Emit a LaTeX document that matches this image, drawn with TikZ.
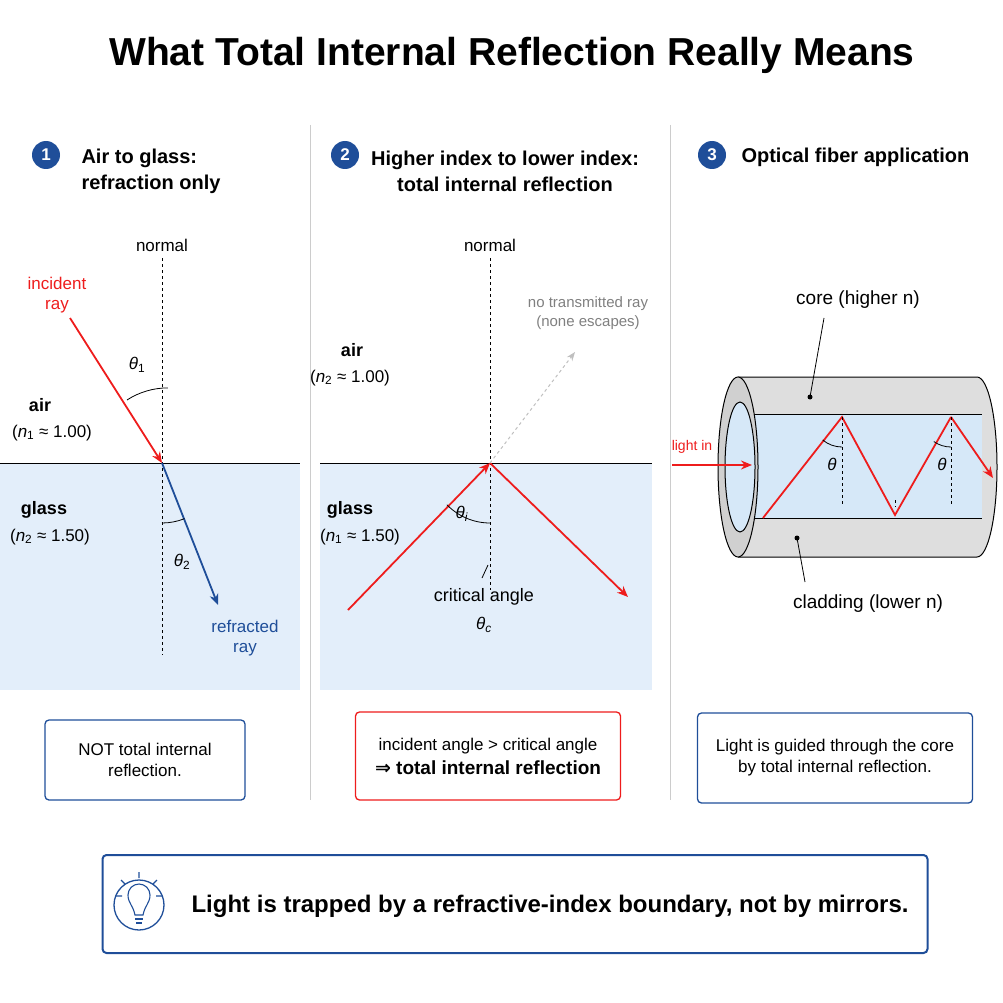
\documentclass[tikz,border=0pt]{standalone}
\usepackage{fontspec}
\setmainfont{Liberation Sans}
\newfontfamily\symfont{DejaVu Sans}
\usetikzlibrary{arrows.meta,positioning}
\definecolor{navy}{HTML}{1F4E99}
\definecolor{glass}{HTML}{E3EEFA}
\definecolor{coreblue}{HTML}{D6E8F8}
\definecolor{clad}{HTML}{DEDEDE}
\definecolor{rayred}{HTML}{EE1C1C}
\newcommand{\thsym}{\textit{θ}}
\tikzset{
  badge/.style={circle, fill=navy, text=white, font=\bfseries\fontsize{17}{17}\selectfont, minimum size=28pt, inner sep=0pt},
  head/.style={font=\bfseries\fontsize{20}{26}\selectfont, align=left},
  lbl/.style={font=\fontsize{17}{20}\selectfont, align=center},
  ray/.style={line width=1.8pt, rayred, -{Stealth[length=11pt,width=9pt]}},
  note/.style={draw=navy, line width=1.3pt, rounded corners=4pt, align=center, font=\fontsize{17}{21}\selectfont},
  normal/.style={dashed, line width=0.8pt},
}
\begin{document}
\begin{tikzpicture}[x=1pt,y=-1pt]
\useasboundingbox (0,0) rectangle (1003,1003);
\node[font=\bfseries\fontsize{39}{44}\selectfont] (title) at (512,55) {What Total Internal Reflection Really Means};
\draw[gray!40, line width=1pt] (310,125) -- (310,800) (670,125) -- (670,800);

% panel 1
\node[badge] (b1) at (46,155) {1};
\node[head, anchor=west] (h1) at (78,171) {Air to glass:\\refraction only};
\fill[glass] (0,463) rectangle (300,690);
\draw[line width=1pt] (0,463) -- (300,463);
\coordinate (o1) at (162,463);
\draw[normal] (162,258) -- (162,655);
\node[lbl] (n1) at (162,245) {normal};
\coordinate (s1) at (70,318);
\coordinate (e1) at (218,605);
\draw[ray] (s1) -- (o1);
\draw[ray, navy] (o1) -- (e1);
\draw[line width=0.8pt] (127,400) arc[start angle=237, end angle=270, radius=75];
\draw[line width=0.8pt] (162,523) arc[start angle=90, end angle=68, radius=60];
\node[lbl, text=rayred] (inc) at (57,295) {incident\\ray};
\node[lbl] (t1) at (137,365) {\thsym\textsubscript{1}};
\node[lbl, font=\bfseries\fontsize{18}{20}\selectfont] (air1) at (40,405) {air};
\node[lbl] (na1) at (52,433) {(\textit{n}\textsubscript{1} ≈ 1.00)};
\node[lbl, font=\bfseries\fontsize{18}{20}\selectfont] (gl1) at (44,510) {glass};
\node[lbl] (ng1) at (50,537) {(\textit{n}\textsubscript{2} ≈ 1.50)};
\node[lbl] (t2) at (182,562) {\thsym\textsubscript{2}};
\node[lbl, text=navy] (refr) at (245,638) {refracted\\ray};
\node[note, minimum width=200pt, minimum height=80pt] (box1) at (145,760) {NOT total internal\\reflection.};

% panel 2
\node[badge] (b2) at (345,155) {2};
\node[head, align=center] (h2) at (505,171) {Higher index to lower index:\\total internal reflection};
\fill[glass] (320,463) rectangle (652,690);
\draw[line width=1pt] (320,463) -- (652,463);
\coordinate (o2) at (490,463);
\draw[normal] (490,258) -- (490,590);
\node[lbl] (n2) at (490,245) {normal};
\coordinate (s2) at (348,610);
\coordinate (e2) at (628,597);
\coordinate (esc) at (575,352);
\draw[ray] (s2) -- (o2);
\draw[ray] (o2) -- (e2);
\draw[gray!50, dashed, line width=1pt, -{Stealth[length=9pt]}] (o2) -- (esc);
\node[lbl, text=gray, font=\fontsize{15}{19}\selectfont] (esc2) at (588,313) {no transmitted ray\\(none escapes)};
\node[lbl, font=\bfseries\fontsize{18}{20}\selectfont] (air2) at (352,350) {air};
\node[lbl] (na2) at (350,378) {(\textit{n}\textsubscript{2} ≈ 1.00)};
\node[lbl, font=\bfseries\fontsize{18}{20}\selectfont] (gl2) at (350,510) {glass};
\node[lbl] (ng2) at (360,537) {(\textit{n}\textsubscript{1} ≈ 1.50)};
\draw[line width=0.8pt] (490,523) arc[start angle=90, end angle=136, radius=60];
\node[lbl] (ti) at (462,514) {\thsym\textsubscript{\textit{i}}};
\draw[line width=0.8pt] (488,565) -- (482,578);
\node[lbl, font=\fontsize{18}{20}\selectfont] (crit) at (484,597) {critical angle};
\node[lbl] (tc) at (484,625) {\thsym\textsubscript{\textit{c}}};
\node[note, draw=rayred, minimum width=265pt, minimum height=88pt] (box2) at (488,756) {incident angle > critical angle\\[3pt]{\bfseries\fontsize{19}{21}\selectfont {\symfont ⇒} total internal reflection}};

% panel 3
\node[badge] (b3) at (712,155) {3};
\node[head, anchor=west] (h3) at (738,157) {Optical fiber application};
\fill[clad] (738,377) -- (977,377) arc[start angle=-90, end angle=90, x radius=20, y radius=90] -- (738,557) -- cycle;
\fill[coreblue] (740,414) rectangle (982,518);
\draw[line width=1pt] (740,414) -- (982,414) (740,518) -- (982,518);
\draw[line width=1pt] (738,377) -- (977,377) arc[start angle=-90, end angle=90, x radius=20, y radius=90] -- (738,557);
\draw[line width=1pt, fill=clad!85!gray] (738,467) ellipse[x radius=20, y radius=90];
\draw[line width=1pt, fill=coreblue] (740,467) ellipse[x radius=15, y radius=65];
\coordinate (z0) at (763,518);
\coordinate (z1) at (842,417);
\coordinate (z2) at (895,515);
\coordinate (z3) at (951,417);
\coordinate (z4) at (993,478);
\draw[ray, -] (z0) -- (z1) -- (z2) -- (z3);
\draw[ray] (z3) -- (z4);
\draw[normal] (842,417) -- (842,505) (951,417) -- (951,505) (895,500) -- (895,507);
\draw[line width=0.8pt] (842,447) arc[start angle=90, end angle=130, radius=30];
\draw[line width=0.8pt] (951,447) arc[start angle=90, end angle=125, radius=30];
\node[lbl] (th1) at (832,464) {\thsym};
\node[lbl] (th2) at (942,464) {\thsym};
\coordinate (in0) at (672,465);
\coordinate (in1) at (752,465);
\draw[ray] (in0) -- (in1);
\node[lbl, text=rayred, font=\fontsize{14}{16}\selectfont] (lin) at (692,447) {light in};
\node[lbl, font=\fontsize{19}{21}\selectfont] (corel) at (858,300) {core (higher n)};
\node[lbl, font=\fontsize{19}{21}\selectfont] (cladl) at (868,604) {cladding (lower n)};
\coordinate (cd) at (810,397);
\coordinate (kd) at (797,538);
\draw[line width=0.8pt] (824,318) -- (cd);
\fill (cd) circle (2.5pt);
\draw[line width=0.8pt] (805,582) -- (kd);
\fill (kd) circle (2.5pt);
\node[note, minimum width=275pt, minimum height=90pt] (box3) at (835,758) {Light is guided through the core\\by total internal reflection.};

% bottom
\node[note, line width=2pt, minimum width=825pt, minimum height=98pt] (box4) at (515,904) {};
\node[font=\bfseries\fontsize{24}{28}\selectfont, anchor=west] (msg) at (188,906) {Light is trapped by a refractive-index boundary, not by mirrors.};
\node[circle, draw=navy, line width=1.3pt, minimum size=50pt] (bulb) at (139,905) {};
\draw[navy, line width=1.1pt] (135,915) .. controls (133,905) and (128,903) .. (128,895) arc[start angle=180, end angle=360, radius=11] .. controls (150,903) and (145,905) .. (143,915) -- cycle;
\draw[navy, line width=1.1pt] (135,919) -- (143,919) (136,923) -- (142,923);
\draw[navy, line width=1.1pt] (139,878) -- (139,872) (125,884) -- (121,880) (153,884) -- (157,880) (122,896) -- (116,896) (156,896) -- (162,896);
\end{tikzpicture}
\end{document}
